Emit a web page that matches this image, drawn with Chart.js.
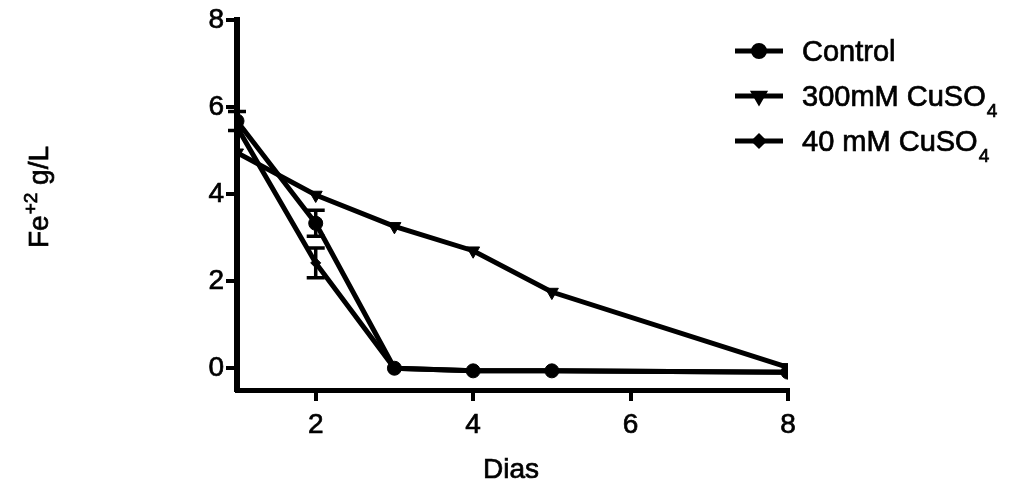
<!DOCTYPE html>
<html>
<head>
<meta charset="utf-8">
<script src="https://cdn.jsdelivr.net/npm/chart.js@4"></script>
<style>
html,body{margin:0;padding:0;background:#fff;}
canvas{display:block;}
</style>
</head>
<body>
<canvas id="c" width="1012" height="486"></canvas>
<script>
// ---- data ----
const days = [1, 2, 3, 4, 5, 8];
const controlVals = [5.68, 3.33, 0.0, -0.06, -0.06, -0.09];
const controlErr  = [0.22, 0.30, 0, 0, 0, 0];
const cu300Vals   = [4.95, 3.98, 3.26, 2.70, 1.75, 0.02];
const cu300Err    = [0, 0, 0, 0, 0, 0];
const cu40Vals    = [5.54, 2.42, 0.0, -0.06, -0.06, -0.09];
const cu40Err     = [0, 0.34, 0, 0, 0, 0];
const xTicks = [2, 4, 6, 8];
const yTicks = [0, 2, 4, 6, 8];
const seriesNames = [
  {main: 'Control', sub: ''},
  {main: '300mM CuSO', sub: '4'},
  {main: '40 mM CuSO', sub: '4'}
];
const xTitle = 'Dias';
const yTitle = {a: 'Fe', sup: '+2', b: ' g/L'};

const FONT = '"Liberation Sans", Arial, Helvetica, sans-serif';
const STROKE = 0.7;

function pts(vals) { return days.map((d, i) => ({x: d, y: vals[i]})); }

const errorBars = {
  id: 'errorBars',
  afterDatasetsDraw(chart) {
    const ctx = chart.ctx, xs = chart.scales.x, ys = chart.scales.y;
    ctx.save();
    ctx.strokeStyle = '#000';
    ctx.lineWidth = 3.5;
    chart.data.datasets.forEach(ds => {
      (ds.err || []).forEach((e, i) => {
        if (!e) return;
        const px = xs.getPixelForValue(days[i]);
        const top = ys.getPixelForValue(ds.vals[i] + e);
        const bot = ys.getPixelForValue(ds.vals[i] - e);
        ctx.beginPath();
        ctx.moveTo(px, top); ctx.lineTo(px, bot);
        ctx.moveTo(px - 9, top); ctx.lineTo(px + 9, top);
        ctx.moveTo(px - 9, bot); ctx.lineTo(px + 9, bot);
        ctx.stroke();
      });
    });
    ctx.restore();
  }
};

function txt(ctx, s, x, y) {
  ctx.fillText(s, x, y);
  ctx.lineWidth = STROKE;
  ctx.strokeText(s, x, y);
}

const customText = {
  id: 'customText',
  afterDraw(chart) {
    const ctx = chart.ctx;
    ctx.save();
    ctx.fillStyle = '#000';
    ctx.strokeStyle = '#000';
    // x title
    ctx.font = '28px ' + FONT;
    ctx.textAlign = 'center';
    ctx.textBaseline = 'alphabetic';
    txt(ctx, xTitle, 511, 478);
    // y title rotated with superscript
    ctx.save();
    ctx.translate(48, 197);
    ctx.rotate(-Math.PI / 2);
    ctx.textAlign = 'left';
    const big = '28px ' + FONT, small = '19px ' + FONT;
    ctx.font = big; const wa = ctx.measureText(yTitle.a).width;
    const wb = ctx.measureText(yTitle.b).width;
    ctx.font = small; const ws = ctx.measureText(yTitle.sup).width;
    const total = wa + ws + 1 + wb;
    let x0 = -total / 2;
    ctx.font = big; txt(ctx, yTitle.a, x0, 0);
    ctx.font = small; txt(ctx, yTitle.sup, x0 + wa + 1, -11);
    ctx.font = big; txt(ctx, yTitle.b, x0 + wa + ws + 1, 0);
    ctx.restore();
    // legend
    const rows = [51, 96, 141];
    chart.data.datasets.forEach((ds, i) => {
      const y = rows[i];
      ctx.lineWidth = 5;
      ctx.beginPath(); ctx.moveTo(735, y); ctx.lineTo(783, y); ctx.stroke();
      Chart.helpers.drawPoint(ctx, {
        pointStyle: ds.pointStyle,
        radius: ds.legendRadius,
        rotation: ds.rotation || 0,
        borderWidth: 1
      }, 759, y);
      ctx.fill();
      ctx.textAlign = 'left';
      ctx.textBaseline = 'alphabetic';
      ctx.font = '29px ' + FONT;
      const nm = seriesNames[i];
      txt(ctx, nm.main, 802, y + 10);
      if (nm.sub) {
        const w = ctx.measureText(nm.main).width;
        ctx.font = '19px ' + FONT;
        txt(ctx, nm.sub, 802 + w + 1, y + 21);
      }
    });
    ctx.restore();
  }
};

function mkDs(vals, err, style, radius, rotation, legendRadius) {
  return {
    data: pts(vals), vals: vals, err: err,
    borderColor: '#000', backgroundColor: '#000',
    borderWidth: 5, pointStyle: style, pointRadius: radius,
    rotation: rotation, pointRotation: rotation,
    pointBackgroundColor: '#000', pointBorderColor: '#000', pointBorderWidth: 1,
    legendRadius: legendRadius, tension: 0, fill: false
  };
}

const tickFont = {family: FONT, size: 28};

new Chart(document.getElementById('c'), {
  type: 'line',
  data: {
    datasets: [
      mkDs(controlVals, controlErr, 'circle', 7, 0, 5.5),
      mkDs(cu300Vals, cu300Err, 'triangle', 7.5, 180, 5.5),
      mkDs(cu40Vals, cu40Err, 'rectRot', 5, 0, 4.5)
    ]
  },
  options: {
    responsive: false,
    animation: false,
    devicePixelRatio: 1,
    layout: {padding: {top: 20, right: 224, left: 0, bottom: 0}},
    plugins: {legend: {display: false}, tooltip: {enabled: false}},
    scales: {
      x: {
        type: 'linear', min: 1, max: 8,
        afterBuildTicks: s => { s.ticks = xTicks.map(v => ({value: v})); },
        afterFit: s => { s.height = 96; },
        ticks: {font: tickFont, color: '#000', padding: 7, maxRotation: 0, autoSkip: false,
                textStrokeWidth: STROKE, textStrokeColor: '#000'},
        grid: {display: true, drawOnChartArea: false, drawTicks: true, tickLength: 11, lineWidth: 4, color: '#000'},
        border: {display: true, color: '#000', width: 5}
      },
      y: {
        type: 'linear', min: -0.5, max: 8,
        afterBuildTicks: s => { s.ticks = yTicks.map(v => ({value: v})); },
        afterFit: s => { s.width = 237; },
        ticks: {font: tickFont, color: '#000', padding: 2,
                textStrokeWidth: STROKE, textStrokeColor: '#000'},
        grid: {display: true, drawOnChartArea: false, drawTicks: true, tickLength: 11, lineWidth: 4, color: '#000'},
        border: {display: true, color: '#000', width: 6}
      }
    }
  },
  plugins: [errorBars, customText]
});
</script>
</body>
</html>
